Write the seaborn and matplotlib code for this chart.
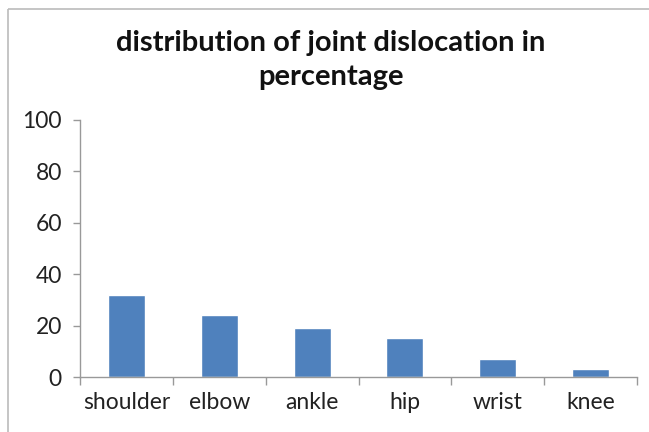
import matplotlib
matplotlib.use("Agg")
import matplotlib.pyplot as plt
import seaborn as sns
import pandas as pd
from matplotlib.lines import Line2D

categories = ["shoulder", "elbow", "ankle", "hip", "wrist", "knee"]
values = [32, 24, 19, 15, 7, 3]
yticks = [0, 20, 40, 60, 80, 100]
title = "distribution of joint dislocation in\npercentage"

df = pd.DataFrame({"joint": categories, "pct": values})

sns.set_style("white")
plt.rcParams["font.family"] = ["Lato", "DejaVu Sans"]

fig = plt.figure(figsize=(6.49, 4.32), dpi=100)
ax = fig.add_axes([80/649, 1-377/432, (637-80)/649, (377-120)/432])

sns.barplot(data=df, x="joint", y="pct", color="#4F81BD", width=0.4,
            saturation=1, ax=ax)

ax.set_ylim(0, 100)
ax.set_xlim(-0.5, len(categories) - 0.5)
ax.set_yticks(yticks)
ax.set_xlabel("")
ax.set_ylabel("")
ax.tick_params(axis="y", labelsize=16.5, length=5, width=1, color="#999999",
               direction="out", left=True, pad=8, labelcolor="#222222")
ax.tick_params(axis="x", labelsize=16.5, length=0, pad=11, labelcolor="#222222")
# category boundary ticks on x-axis
ax.set_xticks([i - 0.5 for i in range(len(categories) + 1)], minor=True)
ax.tick_params(axis="x", which="minor", length=6, width=1, color="#999999",
               direction="out", bottom=True)

for s in ["top", "right"]:
    ax.spines[s].set_visible(False)
for s in ["left", "bottom"]:
    ax.spines[s].set_color("#999999")
    ax.spines[s].set_linewidth(1)

fig.text(331/649, 1-60/432, title, ha="center", va="center",
         fontsize=21, fontweight="bold", linespacing=1.4, color="#111111")

y_top = 1 - 9/432
x_left = 8/649
fig.add_artist(Line2D([x_left, 1.0], [y_top, y_top], transform=fig.transFigure,
                      color="#bbbbbb", linewidth=1.2, solid_capstyle="butt"))
fig.add_artist(Line2D([x_left, x_left], [0.0, y_top], transform=fig.transFigure,
                      color="#bbbbbb", linewidth=1.2, solid_capstyle="butt"))

fig.savefig("out.png", dpi=100)
